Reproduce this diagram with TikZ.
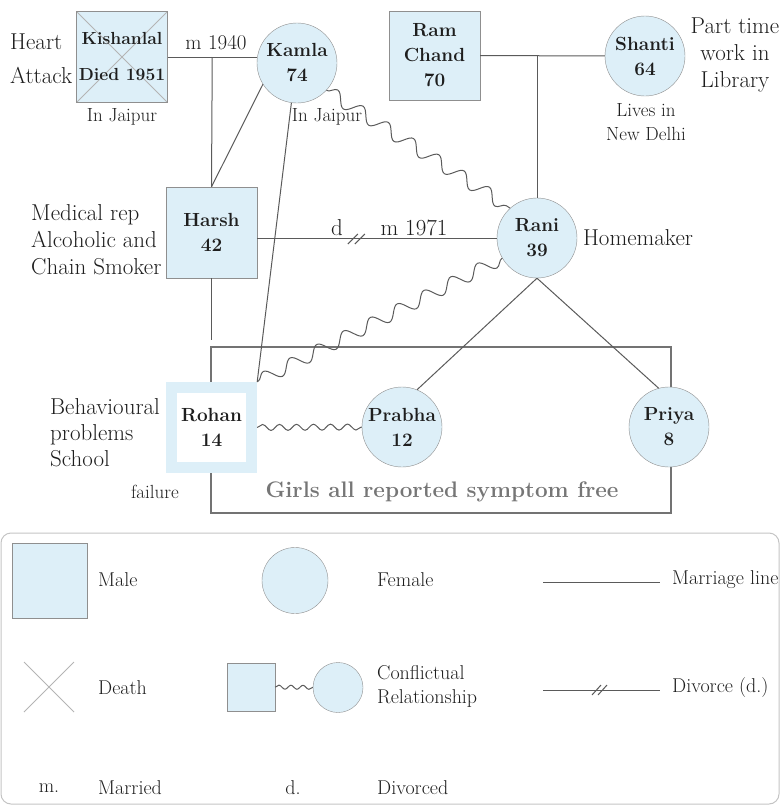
\documentclass[tikz,border=0pt]{standalone}
\usepackage{fontspec}
\usetikzlibrary{decorations.pathmorphing,calc}

\definecolor{kinblue}{HTML}{DDEFF8}
\definecolor{kinline}{HTML}{5A5A5A}
\definecolor{kinedge}{HTML}{8F8F8F}
\definecolor{kintext}{HTML}{1E1E1E}
\definecolor{kincross}{HTML}{B4B4B4}
\definecolor{kinframe}{HTML}{C4C4C4}
\definecolor{kingirls}{HTML}{767676}

\tikzset{
  male/.style={rectangle, draw=kinedge, fill=kinblue, minimum size=91pt, inner sep=0pt,
    align=center, text=kintext, font=\fontsize{19}{25}\selectfont\bfseries},
  female/.style={circle, draw=kinedge, fill=kinblue, minimum size=80pt, inner sep=0pt,
    align=center, text=kintext, font=\fontsize{19}{25}\selectfont\bfseries},
  lbl/.style={inner sep=0pt, text=kintext, font=\fontsize{23}{27}\selectfont},
  note/.style={inner sep=0pt, text=kintext, font=\fontsize{19}{24}\selectfont},
  key/.style={inner sep=0pt, anchor=west, align=left, text=kintext, font=\fontsize{20}{24}\selectfont},
  rel/.style={draw=kinline, line width=1pt},
  wavy/.style={rel, decorate, decoration={snake, amplitude=6.5pt, segment length=30pt}},
  smallwavy/.style={rel, decorate, decoration={snake, amplitude=3pt, segment length=17pt}},
}

\begin{document}
\begin{tikzpicture}[x=1pt,y=-1pt]
\useasboundingbox (0,0) rectangle (780,806);

% children of the second marriage
\draw[draw=kinline!85, line width=1.2pt] (211,347) rectangle (671,513);

\node[male, font=\fontsize{17.5}{25}\selectfont\bfseries, path picture={
    \draw[kincross, line width=0.9pt]
      (path picture bounding box.north west) -- (path picture bounding box.south east)
      (path picture bounding box.north east) -- (path picture bounding box.south west);
  }] (kishan) at (122,57) {Kishanlal\\[11pt]Died 1951};
\node[female] (kamla) at (297,63) {Kamla\\74};
\node[male, minimum height=89pt] (ram) at (434.5,55.5) {Ram\\Chand\\70};
\node[female] (shanti) at (645,56) {Shanti\\64};
\node[male] (harsh) at (211.5,232.5) {Harsh\\42};
\node[female] (rani) at (537,238) {Rani\\39};
\node[male, draw=none, path picture={
    \fill[white] ([xshift=11pt,yshift=-11pt]path picture bounding box.north west)
      rectangle ([xshift=-11pt,yshift=11pt]path picture bounding box.south east);
  }] (rohan) at (211.5,427.5) {Rohan\\14};
\node[female] (prabha) at (402,427) {Prabha\\12};
\node[female] (priya) at (669,427) {Priya\\8};

% marriages
\coordinate (m1) at ($(kishan.east)!0.5!(kishan.east -| kamla.west)$);
\draw[rel] (kishan.east) -- (kishan.east -| kamla.west);
\draw[rel] (m1) -- (harsh.north);
\draw[rel] (ram) -- (shanti);
\draw[rel] (ram.east -| rani.north) -- (rani.north);
\draw[rel] (harsh.east |- rani.west) -- (rani.west);
\draw[rel] (harsh.south) -- ++(0,62);
\coordinate (dv) at ($(harsh.east |- rani.west)!0.42!(rani.west)$);
\draw[rel] (dv) ++(-10,6) -- ++(10,-10) (dv) ++(-3,6) -- ++(10,-10);

% links between the others
\draw[rel] (kamla.212) -- (harsh.north);
\draw[rel] (kamla.262) -- (rohan.north east);
\draw[rel] (rani.south) -- (prabha.68);
\draw[rel] (rani.south) -- (priya.105);
\draw[wavy] (kamla.317) -- (rani.132);
\draw[wavy] (rani.210) -- (rohan.north east);
\draw[smallwavy] (rohan.east) -- (prabha.west);

% labels
\node[lbl, anchor=west] at (10,42) {Heart};
\node[lbl, anchor=west] at (10,75) {Attack};
\node[note] at (122,117) {In Jaipur};
\node[note] at (327,117) {In Jaipur};
\node[lbl, font=\fontsize{21}{24}\selectfont] at (216,43) {m 1940};
\node[note, align=center] at (646,122) {Lives in\\New Delhi};
\node[lbl, align=center] at (735,55) {Part time\\work in\\Library};
\node[lbl, align=left, anchor=west] at (31,240) {Medical rep\\Alcoholic and\\Chain Smoker};
\node[lbl] at (337,228) {d};
\node[lbl] at (414,228) {m 1971};
\node[lbl] at (638,238) {Homemaker};
\node[lbl, align=left, anchor=west, font=\fontsize{23}{26}\selectfont] at (50,433) {Behavioural\\problems\\School};
\node[note] at (155,492) {failure};
\node[inner sep=0pt, text=kingirls, font=\fontsize{22.5}{26}\selectfont\bfseries] at (442,492)
  {Girls all reported symptom free};

% key
\draw[draw=kinframe, line width=1pt, rounded corners=10pt] (1,533) rectangle (779,804);
\node[male, minimum size=75pt] (kmale) at (49.5,580.5) {};
\node[key] at (98,580) {Male};
\node[female, minimum size=66pt] (kfemale) at (295,580.5) {};
\node[key] at (377,580) {Female};
\coordinate (ml1) at (543,582);
\coordinate (ml2) at (660,582);
\draw[rel] (ml1) -- (ml2);
\node[key] at (672,580) {Marriage line};

\draw[kincross, line width=1pt] (24,662) -- (74,712) (74,662) -- (24,712);
\node[key] at (98,688) {Death};
\node[male, minimum size=48pt] (kconm) at (251,687) {};
\node[female, minimum size=50pt] (kconf) at (338,687.5) {};
\draw[rel, decorate, decoration={snake, amplitude=2pt, segment length=12pt}] (kconm) -- (kconf);
\node[key] at (377,686) {Conflictual\\Relationship};
\coordinate (dl1) at (543,690);
\coordinate (dl2) at (660,690);
\draw[rel] (dl1) -- (dl2);
\coordinate (dk) at (601,690);
\draw[rel] (dk) ++(-9,5) -- ++(9,-10) (dk) ++(-3,5) -- ++(9,-10);
\node[key] at (672,688) {Divorce (d.)};

\node[key, anchor=center] at (49,788) {m.};
\node[key] at (98,788) {Married};
\node[key, anchor=center] at (293,788) {d.};
\node[key] at (377,788) {Divorced};
\end{tikzpicture}
\end{document}
